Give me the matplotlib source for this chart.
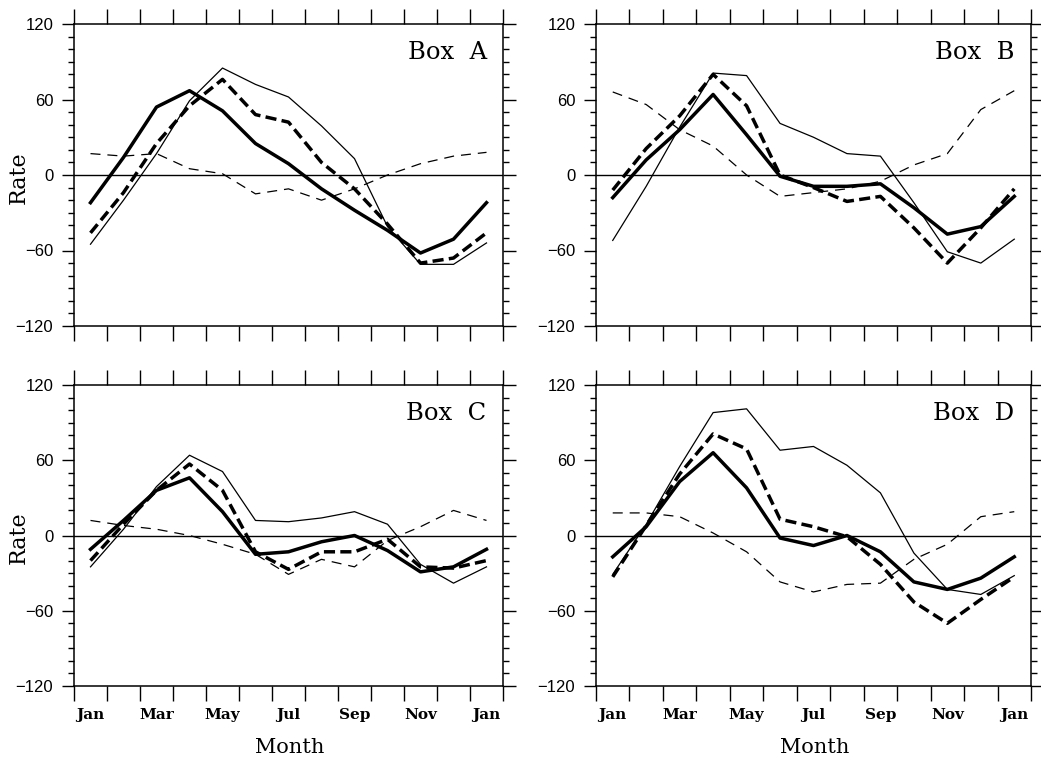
import matplotlib.pyplot as plt
import numpy as np

plt.rcParams['lines.scale_dashes'] = False
SERIF = 'DejaVu Serif'
SANS = 'Liberation Sans'

months = ['Jan', 'Feb', 'Mar', 'Apr', 'May', 'Jun', 'Jul',
          'Aug', 'Sep', 'Oct', 'Nov', 'Dec', 'Jan']
tick_months = ['Jan', 'Mar', 'May', 'Jul', 'Sep', 'Nov', 'Jan']

# Box A
a_thick = [-22, 14, 54, 67, 51, 25, 9, -11, -28, -44, -62, -51, -22]
a_thick_dash = [-46, -14, 25, 55, 76, 48, 42, 10, -11, -39, -70, -66, -46]
a_thin = [-55, -20, 17, 59, 85, 72, 62, 39, 13, -41, -71, -71, -54]
a_thin_dash = [17, 15, 17, 5, 1, -15, -11, -20, -11, 0, 9, 15, 18]

# Box B
b_thick = [-18, 12, 36, 64, 32, -1, -9, -9, -7, -26, -47, -41, -17]
b_thick_dash = [-12, 21, 47, 80, 55, 0, -10, -21, -17, -42, -70, -42, -11]
b_thin = [-52, -9, 38, 81, 79, 41, 30, 17, 15, -22, -61, -70, -51]
b_thin_dash = [66, 56, 36, 23, 0, -17, -14, -11, -5, 8, 17, 52, 67]

# Box C
c_thick = [-11, 12, 36, 46, 19, -15, -13, -5, 0, -12, -29, -25, -11]
c_thick_dash = [-20, 9, 36, 57, 36, -13, -27, -13, -13, -3, -25, -26, -20]
c_thin = [-25, 5, 39, 64, 51, 12, 11, 14, 19, 9, -23, -38, -25]
c_thin_dash = [12, 8, 5, 0, -7, -15, -31, -19, -25, -4, 7, 20, 12]

# Box D
d_thick = [-17, 7, 43, 66, 38, -2, -8, 0, -13, -37, -43, -34, -17]
d_thick_dash = [-33, 8, 49, 81, 69, 13, 7, -1, -23, -53, -70, -51, -33]
d_thin = [-31, 9, 55, 98, 101, 68, 71, 56, 34, -14, -43, -47, -32]
d_thin_dash = [18, 18, 15, 2, -13, -37, -45, -39, -38, -19, -7, 15, 19]

W, H = 1041, 759
fig = plt.figure(figsize=(W / 100, H / 100), dpi=100)


def px_axes(left, top, right, bottom):
    return fig.add_axes([left / W, 1 - bottom / H, (right - left) / W, (bottom - top) / H])


panels = [
    ('Box  A', px_axes(74, 24, 503, 326), (a_thick, a_thick_dash, a_thin, a_thin_dash), False),
    ('Box  B', px_axes(596, 24, 1031, 326), (b_thick, b_thick_dash, b_thin, b_thin_dash), False),
    ('Box  C', px_axes(74, 385, 503, 686), (c_thick, c_thick_dash, c_thin, c_thin_dash), True),
    ('Box  D', px_axes(596, 385, 1031, 686), (d_thick, d_thick_dash, d_thin, d_thin_dash), True),
]

x = np.arange(len(months)) + 0.5

for name, ax, (thick, thick_dash, thin, thin_dash), bottom_row in panels:
    ax.axhline(0, color='black', lw=1.0, zorder=1)
    ax.plot(x, thin, color='black', lw=0.9)
    ax.plot(x, thin_dash, color='black', lw=0.9, dashes=(7.2, 5))
    ax.plot(x, thick_dash, color='black', lw=2.5, dashes=(8, 3.8))
    ax.plot(x, thick, color='black', lw=2.5)

    ax.set_xlim(0, len(months))
    ax.set_ylim(-120, 120)
    for s in ax.spines.values():
        s.set_linewidth(1.1)

    ax.set_xticks(np.arange(0, len(months) + 1))
    ax.set_xticklabels([])
    ax.tick_params(axis='x', which='major', direction='out', length=11, width=1,
                   top=True, bottom=True)
    if bottom_row:
        ax.set_xticks(x[::2], minor=True)
        ax.set_xticklabels(tick_months, minor=True, fontfamily=SERIF,
                           fontweight='bold', fontsize=11)
        ax.tick_params(axis='x', which='minor', length=0, pad=16)

    ax.set_yticks([-120, -60, 0, 60, 120])
    ax.set_yticks(np.arange(-120, 121, 10), minor=True)
    ax.tick_params(axis='y', which='major', direction='out', length=9, width=1,
                   left=True, right=True, pad=6, labelsize=12)
    ax.tick_params(axis='y', which='minor', direction='out', length=4.5, width=1,
                   left=True, right=True)
    for lab in ax.get_yticklabels():
        lab.set_fontfamily(SANS)

    ax.text(0.962, 0.885, name, transform=ax.transAxes, ha='right', va='baseline',
            fontfamily=SERIF, fontsize=17.5)

# axis titles
for yc in (178, 538):
    fig.text(25 / W, 1 - yc / H, 'Rate', rotation=90, rotation_mode='anchor',
             ha='center', va='baseline', fontfamily=SERIF, fontsize=16)
for xc in (290, 815):
    fig.text(xc / W, 1 - 753 / H, 'Month', ha='center', va='baseline',
             fontfamily=SERIF, fontsize=15)

fig.savefig('out.png', dpi=100)
